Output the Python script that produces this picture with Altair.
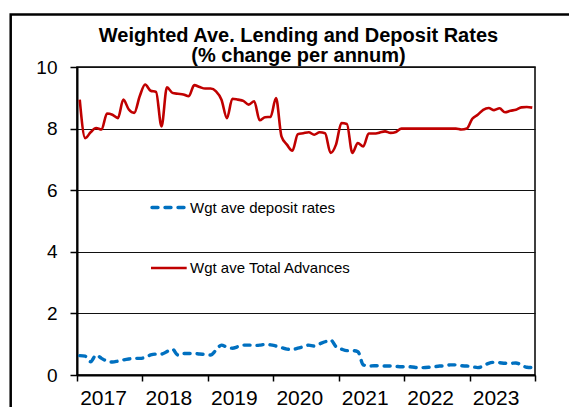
import altair as alt
import pandas as pd

# Monthly observations, Jan 2017 .. Dec 2023 (84 months)
start_year = 2017
n_months = 84

advances = [8.94, 7.69, 7.88, 8.02, 7.97, 8.49, 8.45, 8.34, 8.94, 8.62, 8.51, 9.05,
            9.43, 9.23, 9.19, 8.07, 9.34, 9.16, 9.13, 9.11, 9.05, 9.41, 9.35, 9.30,
            9.30, 9.21, 8.94, 8.34, 8.97, 8.94, 8.90, 8.78, 8.89, 8.27, 8.37, 8.38,
            8.99, 7.75, 7.48, 7.28, 7.82, 7.85, 7.88, 7.80, 7.88, 7.85, 7.21, 7.48,
            8.18, 8.15, 7.21, 7.53, 7.42, 7.84, 7.84, 7.87, 7.91, 7.86, 7.89, 8.00,
            8.00, 8.00, 8.00, 8.00, 8.00, 8.00, 8.00, 8.00, 8.00, 8.00, 7.97, 8.00,
            8.32, 8.45, 8.61, 8.67, 8.60, 8.66, 8.53, 8.58, 8.61, 8.69, 8.70, 8.68]

deposit = [0.63, 0.61, 0.43, 0.65, 0.54, 0.45, 0.42, 0.45, 0.49, 0.52, 0.54, 0.54,
           0.57, 0.65, 0.68, 0.68, 0.76, 0.84, 0.65, 0.70, 0.70, 0.70, 0.68, 0.67,
           0.65, 0.81, 0.97, 0.90, 0.87, 0.92, 0.97, 0.97, 0.96, 0.97, 0.99, 0.98,
           0.94, 0.89, 0.84, 0.83, 0.87, 0.92, 0.97, 0.94, 1.01, 1.08, 1.14, 0.92,
           0.84, 0.79, 0.79, 0.76, 0.33, 0.29, 0.30, 0.30, 0.29, 0.29, 0.28, 0.27,
           0.27, 0.26, 0.24, 0.24, 0.25, 0.27, 0.29, 0.30, 0.33, 0.33, 0.30, 0.29,
           0.27, 0.24, 0.29, 0.38, 0.41, 0.40, 0.38, 0.38, 0.39, 0.33, 0.25, 0.24]

year_ticks = [2017, 2018, 2019, 2020, 2021, 2022, 2023, 2024]
y_ticks = [0, 2, 4, 6, 8, 10]

title_lines = ["Weighted Ave. Lending and Deposit Rates", "(% change per annum)"]
label_deposit = "Wgt ave deposit rates"
label_advances = "Wgt ave Total Advances"

RED = "#C00000"
BLUE = "#0070C0"
FONT = "Liberation Sans"

t = [start_year + (m + 0.5) / 12 for m in range(n_months)]
df = pd.DataFrame({"t": t, "advances": advances, "deposit": deposit})

x_enc = alt.X("t:Q",
              scale=alt.Scale(domain=[2017, 2024], nice=False, zero=False),
              axis=alt.Axis(values=year_ticks, format="d", title=None, grid=False,
                            labelExpr="datum.value < 2024 ? datum.label : ''",
                            labelOffset=26, labelFontSize=21, labelPadding=6,
                            tickSize=6, tickColor="black", tickWidth=1.5,
                            domainColor="black", domainWidth=2,
                            labelFlush=False, labelOverlap=False, labelBound=False,
                            labelColor="black", labelFont=FONT))

def y_enc(field):
    return alt.Y(f"{field}:Q",
                 scale=alt.Scale(domain=[0, 10], nice=False),
                 axis=alt.Axis(values=y_ticks, title=None, grid=True,
                               gridColor="#111111", gridWidth=1,
                               labelFontSize=19, labelPadding=13, tickSize=7,
                               tickColor="black", tickWidth=1.5,
                               domainColor="black", domainWidth=2,
                               labelColor="black", labelFont=FONT))

base = alt.Chart(df)

line_adv = base.mark_line(color=RED, strokeWidth=2.6, interpolate="monotone").encode(
    x=x_enc, y=y_enc("advances"))
line_dep = base.mark_line(color=BLUE, strokeWidth=3.4, strokeDash=[6, 7], strokeCap="round",
                          interpolate="monotone").encode(
    x=x_enc, y=y_enc("deposit"))

one = pd.DataFrame({"k": [0]})
frame = alt.Chart(one).mark_rect(fillOpacity=0, stroke="black", strokeWidth=2.5, clip=False).encode(
    x=alt.value(-66.3), x2=alt.value(520), y=alt.value(-52.5), y2=alt.value(380))

title1 = alt.Chart(one).mark_text(text=title_lines[0], font=FONT, fontWeight="bold", fontSize=20,
                                  align="center", baseline="alphabetic", color="black").encode(
    x=alt.value(221.5), y=alt.value(-25.5))
title2 = alt.Chart(one).mark_text(text=title_lines[1], font=FONT, fontWeight="bold", fontSize=20,
                                  align="center", baseline="alphabetic", color="black").encode(
    x=alt.value(221.5), y=alt.value(-5.5))

leg_dep_line = alt.Chart(one).mark_rule(color=BLUE, strokeWidth=3.4, strokeDash=[6, 7],
                                        strokeCap="round").encode(
    x=alt.value(75), x2=alt.value(109), y=alt.value(140.5))
leg_dep_text = alt.Chart(one).mark_text(text=label_deposit, font=FONT, fontSize=15, align="left",
                                        baseline="middle", color="black").encode(
    x=alt.value(113), y=alt.value(141))
leg_adv_line = alt.Chart(one).mark_rule(color=RED, strokeWidth=2.6).encode(
    x=alt.value(74), x2=alt.value(109.7), y=alt.value(201))
leg_adv_text = alt.Chart(one).mark_text(text=label_advances, font=FONT, fontSize=15, align="left",
                                        baseline="middle", color="black").encode(
    x=alt.value(113), y=alt.value(201))

chart = alt.layer(frame, line_adv, line_dep, leg_dep_line, leg_dep_text, leg_adv_line,
                  leg_adv_text, title1, title2).properties(
    width=458, height=308,
    autosize=alt.AutoSizeParams(type="none"),
    padding={"left": 69, "top": 59, "right": 34, "bottom": 32},
    background="white",
).configure_view(stroke="black", strokeWidth=1.5)

chart.save("out.html", embed_options={"renderer": "svg", "actions": False})
